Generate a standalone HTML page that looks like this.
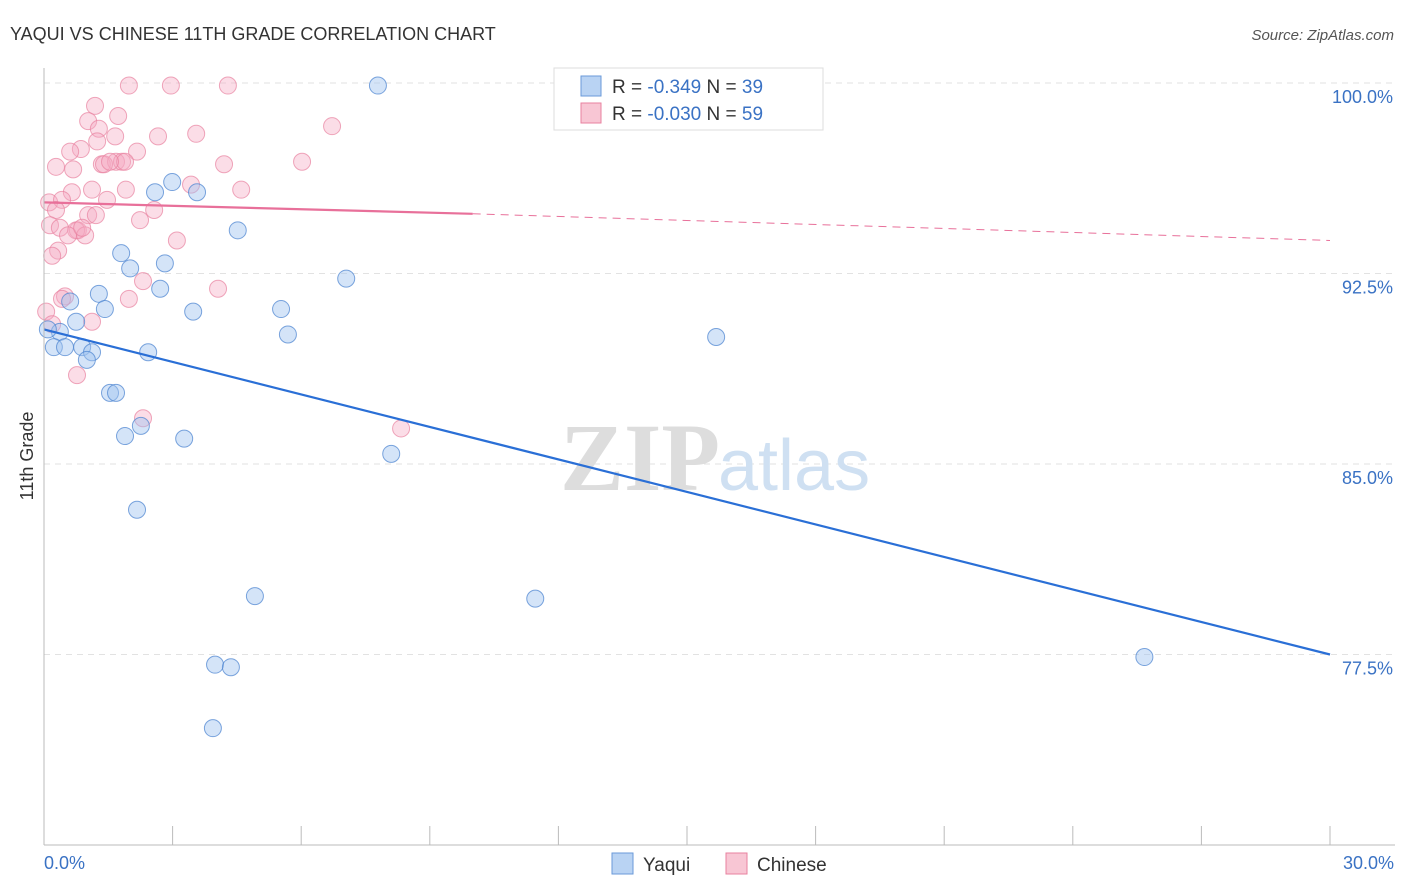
<!DOCTYPE html>
<html><head><meta charset="utf-8"><style>
body{margin:0;background:#fff;font-family:"Liberation Sans",sans-serif}
svg{display:block}
</style></head><body>
<svg id="c" width="1406" height="892">
<text x="10" y="40" font-size="18" fill="#333">YAQUI VS CHINESE 11TH GRADE CORRELATION CHART</text>
<text x="1394" y="40" font-size="15" fill="#555" text-anchor="end" font-style="italic">Source: ZipAtlas.com</text>
<g id="grid"></g>
<text x="720" y="490" font-size="96" fill="#ddd" text-anchor="end" font-family="Liberation Serif" font-weight="bold">ZIP</text>
<text x="718" y="490" font-size="72" fill="#cfe0f2">atlas</text>
<g id="pts"></g>
<g id="trend"></g>
<line x1="44" y1="68" x2="44" y2="845" stroke="#bbb"/>
<line x1="44" y1="845" x2="1395" y2="845" stroke="#bbb"/>
<g id="xt"></g>
<text x="44" y="869" font-size="18" fill="#3a72c4">0.0%</text>
<text x="1394" y="869" font-size="18" fill="#3a72c4" text-anchor="end">30.0%</text>
<text transform="translate(33,456) rotate(-90)" font-size="18" fill="#333" text-anchor="middle">11th Grade</text>
<g>
<rect x="554" y="68" width="269" height="62" fill="#fff" stroke="#ddd"/>
<rect x="581" y="76" width="20" height="20" fill="#b9d3f3" stroke="#6a9ad8"/>
<text x="612" y="93" font-size="19" fill="#333">R = <tspan fill="#3a72c4">-0.349</tspan>   N = <tspan fill="#3a72c4">39</tspan></text>
<rect x="581" y="103" width="20" height="20" fill="#f8c6d4" stroke="#e8819f"/>
<text x="612" y="120" font-size="19" fill="#333">R = <tspan fill="#3a72c4">-0.030</tspan>   N = <tspan fill="#3a72c4">59</tspan></text>
</g>
<g><rect x="612" y="853" width="21" height="21" fill="#b9d3f3" stroke="#6a9ad8"/><text x="643" y="871" font-size="19" fill="#333">Yaqui</text></g>
<g><rect x="726" y="853" width="21" height="21" fill="#f8c6d4" stroke="#e8819f"/><text x="757" y="871" font-size="19" fill="#333">Chinese</text></g>
</svg>
<script>
const yTicks=[100,92.5,85,77.5];
const yTickLabels=["100.0%","92.5%","85.0%","77.5%"];
const yaquiX=[7.79,2.99,2.59,3.57,4.52,1.80,2.01,2.82,2.71,7.05,1.28,0.61,1.42,3.48,5.53,0.75,0.37,5.69,15.68,0.23,0.89,0.49,1.12,2.43,1.00,1.54,1.68,1.89,2.26,3.27,8.10,2.17,4.92,11.46,3.99,4.36,25.67,3.94,0.09];
const yaquiY=[99.9,96.1,95.7,95.7,94.2,93.3,92.7,92.9,91.9,92.3,91.7,91.4,91.1,91.0,91.1,90.6,90.2,90.1,90.0,89.6,89.6,89.6,89.4,89.4,89.1,87.8,87.8,86.1,86.5,86.0,85.4,83.2,79.8,79.7,77.1,77.0,77.4,74.6,90.3];
const chineseX=[1.98,2.96,4.29,1.19,1.73,1.03,1.28,1.66,2.66,3.55,6.72,1.24,0.86,0.61,2.17,0.28,0.68,1.35,1.68,1.82,1.89,1.40,4.20,6.02,3.43,4.60,1.91,1.12,0.65,1.47,0.12,0.42,0.28,2.57,1.03,1.21,2.24,0.14,0.37,0.79,0.75,0.96,0.56,3.10,0.33,0.19,2.31,4.06,0.49,0.42,1.98,0.05,1.12,0.77,2.31,8.33,0.19,0.89,1.54];
const chineseY=[99.9,99.9,99.9,99.1,98.7,98.5,98.2,97.9,97.9,98.0,98.3,97.7,97.4,97.3,97.3,96.7,96.6,96.8,96.9,96.9,96.9,96.8,96.8,96.9,96.0,95.8,95.8,95.8,95.7,95.4,95.3,95.4,95.0,95.0,94.8,94.8,94.6,94.4,94.3,94.2,94.2,94.0,94.0,93.8,93.4,93.2,92.2,91.9,91.6,91.5,91.5,91.0,90.6,88.5,86.8,86.4,90.5,94.3,96.9];
const xMin=0,xMax=30;
const sx=v=>44+(v-xMin)/(xMax-xMin)*1286;
const sy=v=>83+(100-v)*25.4;
const NS="http://www.w3.org/2000/svg";
const mk=(t,a,p)=>{const e=document.createElementNS(NS,t);for(const k in a)e.setAttribute(k,a[k]);p.appendChild(e);return e;};
const grid=document.getElementById('grid');
yTicks.forEach((t,i)=>{
 const l=mk('line',{x1:44,x2:1395,y1:sy(t),y2:sy(t),stroke:'#e2e2e2','stroke-dasharray':'6,5'},grid);
 
 
 const tx=mk('text',{x:1393,y:sy(t)+20,'font-size':18,fill:'#3a72c4','text-anchor':'end'},grid);
 tx.textContent=yTickLabels[i];
 
 
});
const xt=document.getElementById('xt');
for(let i=0;i<=10;i++){const x=sx(i*3);const l=mk('line',{x1:x,x2:x,y1:826,y2:845,stroke:'#bbb'},xt);
 
 }
const pts=document.getElementById('pts');
chineseX.forEach((x,i)=>{const c=mk('circle',{cx:sx(x),cy:sy(chineseY[i]),r:8.5,fill:'rgba(245,170,195,0.4)',stroke:'rgba(232,129,159,0.7)'},pts);
 
 });
yaquiX.forEach((x,i)=>{const c=mk('circle',{cx:sx(x),cy:sy(yaquiY[i]),r:8.5,fill:'rgba(160,196,240,0.45)',stroke:'rgba(80,135,210,0.75)'},pts);
 
 });
const tr=document.getElementById('trend');
let l=mk('line',{x1:sx(0),y1:sy(90.3),x2:sx(30),y2:sy(77.5),stroke:'#2a6fd6','stroke-width':2.2},tr);


l=mk('line',{x1:sx(0),y1:sy(95.3),x2:sx(10),y2:sy(94.85),stroke:'#e8709a','stroke-width':2.2},tr);


l=mk('line',{x1:sx(10),y1:sy(94.85),x2:sx(30),y2:sy(93.8),stroke:'#e8709a','stroke-width':1,'stroke-dasharray':'8,6'},tr);


</script>
</body></html>
